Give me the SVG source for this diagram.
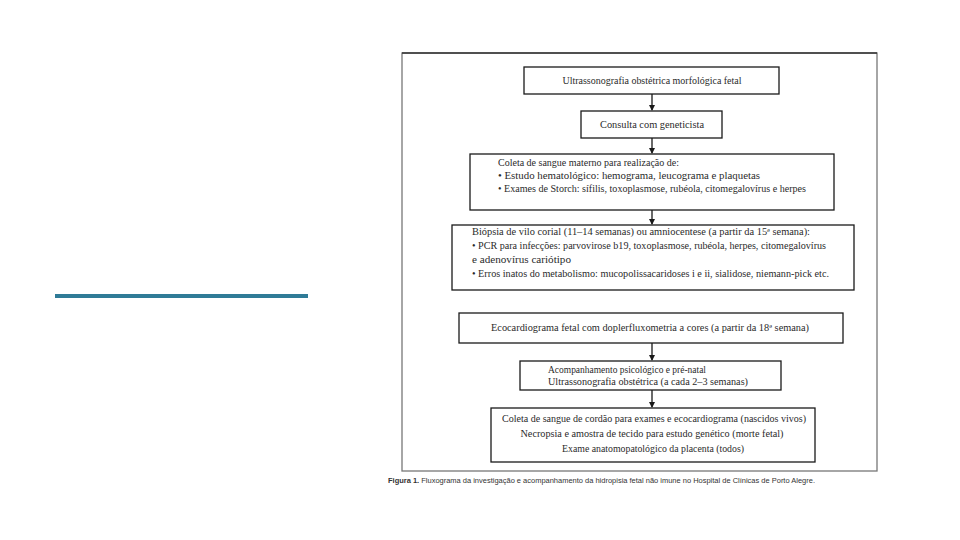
<svg xmlns="http://www.w3.org/2000/svg" width="960" height="540" viewBox="0 0 960 540">
<style>
.box{fill:#fff;stroke:#1a1a1a;stroke-width:1.3}
.t{font-family:"Liberation Serif","Times New Roman",serif;font-size:9.5px;fill:#2a2a2a}
.c{text-anchor:middle}
.cap{font-family:"Liberation Sans",Arial,sans-serif;font-size:7px;fill:#333}
.con{stroke:#1a1a1a;stroke-width:1.3;fill:none}
</style>
<defs>
<marker id="ah" markerWidth="6" markerHeight="6" refX="5" refY="3" orient="auto" markerUnits="userSpaceOnUse">
<path d="M0,0 L6,3 L0,6 Z" fill="#1a1a1a"/>
</marker>
</defs>
<rect width="960" height="540" fill="#fff"/>
<line x1="55" y1="296" x2="308" y2="296" stroke="#2f7b97" stroke-width="4"/>
<g id="frame">
<rect x="402" y="53" width="475" height="418" fill="#fff" stroke="#777" stroke-width="1.3"/>
<line x1="402" y1="53" x2="877" y2="53" stroke="#333" stroke-width="1.6"/>
</g>
<g id="connectors">
<line class="con" x1="652" y1="94" x2="652" y2="110" marker-end="url(#ah)"/>
<line class="con" x1="652" y1="138" x2="652" y2="153" marker-end="url(#ah)"/>
<line class="con" x1="652" y1="210" x2="652" y2="224" marker-end="url(#ah)"/>
<line class="con" x1="652" y1="343" x2="652" y2="360" marker-end="url(#ah)"/>
<line class="con" x1="652" y1="390" x2="652" y2="407" marker-end="url(#ah)"/>
</g>
<g id="n1">
<rect class="box" x="524" y="67" width="255" height="27"/>
<text class="t c" x="652" y="84" textLength="179" lengthAdjust="spacingAndGlyphs">Ultrassonografia obstétrica morfológica fetal</text>
</g>
<g id="n2">
<rect class="box" x="581" y="111" width="141" height="27"/>
<text class="t c" x="652" y="128" textLength="104" lengthAdjust="spacingAndGlyphs">Consulta com geneticista</text>
</g>
<g id="n3">
<rect class="box" x="470" y="154" width="364" height="56"/>
<text class="t" x="498" y="166" textLength="181" lengthAdjust="spacingAndGlyphs">Coleta de sangue materno para realização de:</text>
<text class="t" x="498" y="179" textLength="262" lengthAdjust="spacingAndGlyphs">• Estudo hematológico: hemograma, leucograma e plaquetas</text>
<text class="t" x="498" y="192" textLength="308" lengthAdjust="spacingAndGlyphs">• Exames de Storch: sífilis, toxoplasmose, rubéola, citomegalovírus e herpes</text>
</g>
<g id="n4">
<rect class="box" x="452" y="225" width="402" height="65"/>
<text class="t" x="472" y="235" textLength="338" lengthAdjust="spacingAndGlyphs">Biópsia de vilo corial (11–14 semanas) ou amniocentese (a partir da 15ª semana):</text>
<text class="t" x="472" y="249" textLength="354" lengthAdjust="spacingAndGlyphs">• PCR para infecções: parvovirose b19, toxoplasmose, rubéola, herpes, citomegalovírus</text>
<text class="t" x="472" y="263" textLength="99" lengthAdjust="spacingAndGlyphs">e adenovírus cariótipo</text>
<text class="t" x="472" y="277" textLength="357" lengthAdjust="spacingAndGlyphs">• Erros inatos do metabolismo: mucopolissacaridoses i e ii, sialidose, niemann-pick etc.</text>
</g>
<g id="n5">
<rect class="box" x="459" y="313" width="384" height="30"/>
<text class="t c" x="650" y="331" textLength="318" lengthAdjust="spacingAndGlyphs">Ecocardiograma fetal com doplerfluxometria a cores (a partir da 18ª semana)</text>
</g>
<g id="n6">
<rect class="box" x="520" y="361" width="261" height="29"/>
<text class="t" x="548" y="373" textLength="158" lengthAdjust="spacingAndGlyphs">Acompanhamento psicológico e pré-natal</text>
<text class="t" x="548" y="385" textLength="200" lengthAdjust="spacingAndGlyphs">Ultrassonografia obstétrica (a cada 2–3 semanas)</text>
</g>
<g id="n7">
<rect class="box" x="491" y="408" width="324" height="54"/>
<text class="t c" x="654" y="422" textLength="304" lengthAdjust="spacingAndGlyphs">Coleta de sangue de cordão para exames e ecocardiograma (nascidos vivos)</text>
<text class="t c" x="652" y="437" textLength="263" lengthAdjust="spacingAndGlyphs">Necropsia e amostra de tecido para estudo genético (morte fetal)</text>
<text class="t c" x="653" y="452" textLength="182" lengthAdjust="spacingAndGlyphs">Exame anatomopatológico da placenta (todos)</text>
</g>
<text class="cap" x="388" y="483" textLength="427" lengthAdjust="spacingAndGlyphs"><tspan font-weight="bold">Figura 1.</tspan> Fluxograma da investigação e acompanhamento da hidropisia fetal não imune no Hospital de Clínicas de Porto Alegre.</text>
</svg>
